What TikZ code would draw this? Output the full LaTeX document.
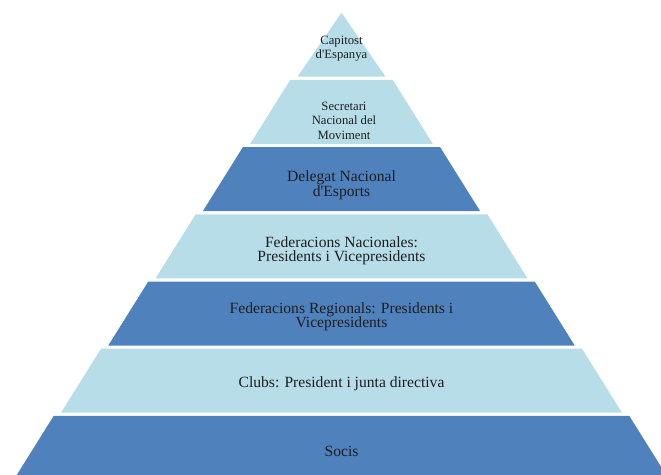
\documentclass[tikz,border=0pt]{standalone}
\usepackage{fontspec}
\setmainfont{Liberation Serif}
\definecolor{lightlayer}{HTML}{B7DDE8}
\definecolor{darklayer}{HTML}{4F81BD}
\definecolor{txt}{HTML}{1E1E1E}
\begin{document}
\begin{tikzpicture}[x=0.75pt,y=-0.75pt,
  small/.style={text=txt,align=center,font=\fontsize{9.5pt}{10.9pt}\selectfont,inner sep=0pt},
  big/.style={text=txt,align=center,font=\fontsize{11.7pt}{10.8pt}\selectfont,inner sep=0pt}]
\useasboundingbox (0,0) rectangle (661,475);
\clip (0,0) rectangle (661,475);
\def\cx{341.5}
% apex triangle
\fill[lightlayer] (\cx,12.7) -- (\cx+44,76.7) -- (\cx-44,76.7) -- cycle;
% trapezoids
\foreach \i/\col in {1/lightlayer,2/darklayer,3/lightlayer,4/darklayer,5/lightlayer,6/darklayer}{
  \pgfmathsetmacro{\tp}{12.7+67.2*\i}
  \pgfmathsetmacro{\bt}{\tp+64}
  \pgfmathsetmacro{\hb}{44+47.3*\i}
  \pgfmathsetmacro{\ht}{\hb-40}
  \fill[\col] (\cx-\ht,\tp) -- (\cx+\ht,\tp) -- (\cx+\hb,\bt) -- (\cx-\hb,\bt) -- cycle;
}
\node[small,font=\fontsize{9.5pt}{10.4pt}\selectfont] (t1) at (\cx,49) {Capitost\\d\textquotesingle Espanya};
\node[small] (t2) at (344,120.5) {Secretari\\Nacional del\\Moviment};
\node[big,font=\fontsize{11.7pt}{11.2pt}\selectfont] (t3) at (\cx,185) {Delegat Nacional\\d\textquotesingle Esports};
\node[big] (t4) at (\cx,251) {Federacions Nacionales:\\Presidents i Vicepresidents};
\node[big] (t5) at (\cx,317) {Federacions Regionals: Presidents i\\Vicepresidents};
\node[big] (t6) at (\cx,384) {Clubs: President i junta directiva};
\node[big] (t7) at (\cx,451) {Socis};
\end{tikzpicture}
\end{document}
